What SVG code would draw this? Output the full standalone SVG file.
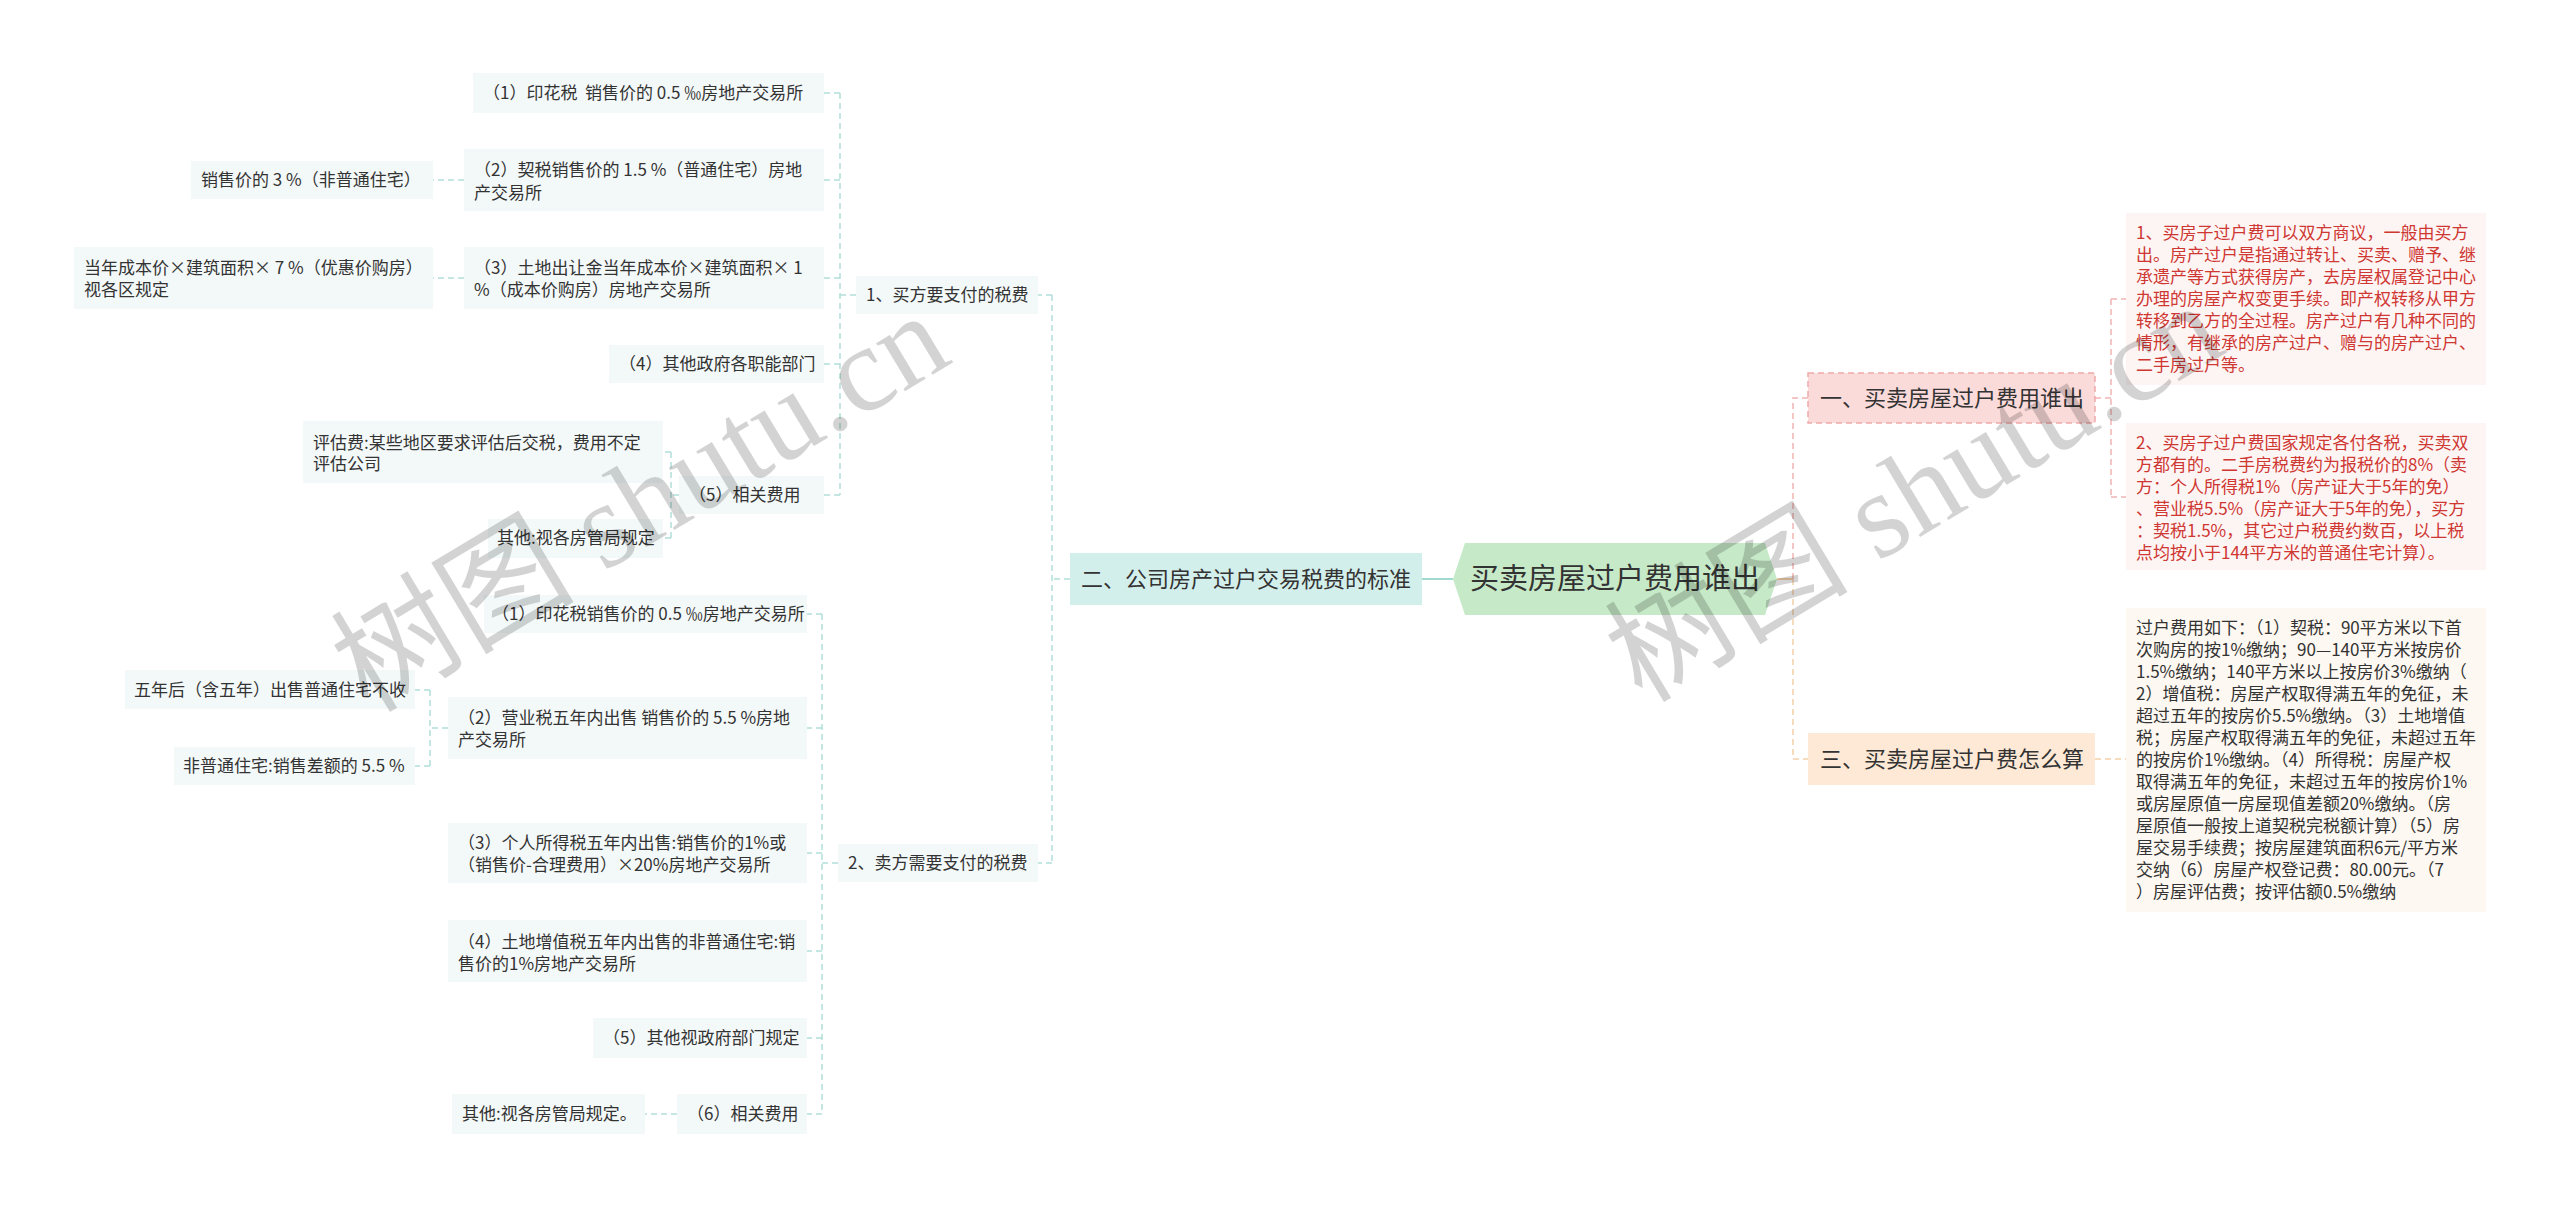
<svg xmlns="http://www.w3.org/2000/svg" width="2560" height="1207" viewBox="0 0 2560 1207">
<style>
text{font-family:"Noto Sans CJK SC","Noto Sans",sans-serif;white-space:pre;fill:#333}
.t17{font-size:17px}
.t22{font-size:22px}
.leafL{fill:#f3f9f9}
.leafR{fill:#fdf5f4}
.leafP{fill:#fdf8f1}
.red{fill:#cf3732}
.cL{fill:none;stroke:#b3dfda;stroke-width:1.5;stroke-dasharray:6 4}
.cR{fill:none;stroke:#f2b4b4;stroke-width:1.5;stroke-dasharray:6 4}
.cP{fill:none;stroke:#f5cfaa;stroke-width:1.5;stroke-dasharray:6 4}
.wm{font-family:"Liberation Serif","Noto Sans CJK SC",serif;font-size:122px;fill:#000;opacity:0.17}
</style>
<rect width="2560" height="1207" fill="#ffffff"/>
<g id="connectors">
<path d="M1453 579H1422" fill="none" stroke="#a3d9d3" stroke-width="2"/>
<path class="cL" d="M1070 579H1052M1052 295V863M1052 295H1038M1052 863H1038"/>
<path class="cL" d="M856 295H840M840 93V495M840 93H824M840 180H824M840 278H824M840 364H824M840 495H824"/>
<path class="cL" d="M464 180H433M464 278H433"/>
<path class="cL" d="M679 495H671M671 452V538M671 452H663M671 538H663"/>
<path class="cL" d="M838 863H822M822 614V1114M822 614H807M822 728H807M822 853H807M822 951H807M822 1038H807M822 1114H807"/>
<path class="cL" d="M448 728H430M430 690V766M430 690H415M430 766H415"/>
<path class="cL" d="M677 1114H645"/>
<path d="M1777 579H1793" fill="none" stroke="#f5cfaa" stroke-width="2"/>
<path class="cR" d="M1793 579V398H1808"/>
<path class="cP" d="M1793 579V759H1808"/>
<path class="cR" d="M2095 398H2111M2111 299V497M2111 299H2126M2111 497H2126"/>
<path class="cP" d="M2095 759H2126"/>
</g>
<g id="root">
<polygon points="1453,579 1465,543 1765,543 1777,579 1765,615 1465,615" fill="#c6e9c8"/>
<text x="1615" y="589" font-size="29" text-anchor="middle" fill="#222">买卖房屋过户费用谁出</text>
</g>
<g id="branch-2-company">
<rect x="1070" y="553" width="352" height="52" fill="#d3efec"/>
<text class="t22" x="1081" y="587">二、公司房产过户交易税费的标准</text>
</g>
<g id="buyer">
<rect class="leafL" x="856" y="276" width="182" height="38"/>
<text class="t17" x="866" y="301">1、买方要支付的税费</text>
</g>
<g id="b1">
<rect class="leafL" x="473" y="73" width="351" height="40"/>
<text class="t17" x="483" y="99">（1）印花税  销售价的 0.5 ‰房地产交易所</text>
</g>
<g id="b2">
<rect class="leafL" x="464" y="149" width="360" height="62"/>
<text class="t17" x="474" y="176">（2）契税销售价的 1.5 %（普通住宅）房地</text>
<text class="t17" x="474" y="199">产交易所</text>
</g>
<g id="b2a">
<rect class="leafL" x="191" y="161" width="242" height="38"/>
<text class="t17" x="201" y="186">销售价的 3 %（非普通住宅）</text>
</g>
<g id="b3">
<rect class="leafL" x="464" y="247" width="360" height="62"/>
<text class="t17" x="474" y="274">（3）土地出让金当年成本价×建筑面积× 1</text>
<text class="t17" x="474" y="296">%（成本价购房）房地产交易所</text>
</g>
<g id="b3a">
<rect class="leafL" x="74" y="247" width="359" height="62"/>
<text class="t17" x="84" y="274">当年成本价×建筑面积× 7 %（优惠价购房）</text>
<text class="t17" x="84" y="296">视各区规定</text>
</g>
<g id="b4">
<rect class="leafL" x="609" y="345" width="215" height="38"/>
<text class="t17" x="619" y="370">（4）其他政府各职能部门</text>
</g>
<g id="b5">
<rect class="leafL" x="679" y="476" width="145" height="38"/>
<text class="t17" x="689" y="501">（5）相关费用</text>
</g>
<g id="b5a">
<rect class="leafL" x="303" y="421" width="360" height="62"/>
<text class="t17" x="313" y="449">评估费:某些地区要求评估后交税，费用不定</text>
<text class="t17" x="313" y="470">评估公司</text>
</g>
<g id="b5b">
<rect class="leafL" x="488" y="519" width="175" height="39"/>
<text class="t17" x="497" y="544">其他:视各房管局规定</text>
</g>
<g id="seller">
<rect class="leafL" x="838" y="844" width="200" height="38"/>
<text class="t17" x="848" y="869">2、卖方需要支付的税费</text>
</g>
<g id="s1">
<rect class="leafL" x="484" y="595" width="323" height="38"/>
<text class="t17" x="492" y="620">（1）印花税销售价的 0.5 ‰房地产交易所</text>
</g>
<g id="s2">
<rect class="leafL" x="448" y="697" width="359" height="62"/>
<text class="t17" x="458" y="724">（2）营业税五年内出售 销售价的 5.5 %房地</text>
<text class="t17" x="458" y="746">产交易所</text>
</g>
<g id="s2a">
<rect class="leafL" x="125" y="670" width="290" height="39"/>
<text class="t17" x="134" y="696">五年后（含五年）出售普通住宅不收</text>
</g>
<g id="s2b">
<rect class="leafL" x="174" y="747" width="241" height="38"/>
<text class="t17" x="183" y="772">非普通住宅:销售差额的 5.5 %</text>
</g>
<g id="s3">
<rect class="leafL" x="448" y="823" width="359" height="60"/>
<text class="t17" x="458" y="849">（3）个人所得税五年内出售:销售价的1%或</text>
<text class="t17" x="458" y="871">（销售价-合理费用）×20%房地产交易所</text>
</g>
<g id="s4">
<rect class="leafL" x="448" y="920" width="359" height="62"/>
<text class="t17" x="458" y="948">（4）土地增值税五年内出售的非普通住宅:销</text>
<text class="t17" x="458" y="970">售价的1%房地产交易所</text>
</g>
<g id="s5">
<rect class="leafL" x="593" y="1018" width="214" height="40"/>
<text class="t17" x="603" y="1044">（5）其他视政府部门规定</text>
</g>
<g id="s6">
<rect class="leafL" x="677" y="1094" width="130" height="40"/>
<text class="t17" x="687" y="1120">（6）相关费用</text>
</g>
<g id="s6a">
<rect class="leafL" x="452" y="1094" width="193" height="40"/>
<text class="t17" x="462" y="1120">其他:视各房管局规定。</text>
</g>
<g id="branch-1-who">
<rect x="1808" y="373" width="287" height="50" fill="#fbdada" stroke="#f0a9a9" stroke-width="1.5" stroke-dasharray="6 4"/>
<text class="t22" x="1820" y="406">一、买卖房屋过户费用谁出</text>
</g>
<g id="who-1">
<rect class="leafR" x="2126" y="213" width="360" height="172"/>
<text class="t17 red" x="2136" y="239">1、买房子过户费可以双方商议，一般由买方</text>
<text class="t17 red" x="2136" y="261">出。房产过户是指通过转让、买卖、赠予、继</text>
<text class="t17 red" x="2136" y="283">承遗产等方式获得房产，去房屋权属登记中心</text>
<text class="t17 red" x="2136" y="305">办理的房屋产权变更手续。即产权转移从甲方</text>
<text class="t17 red" x="2136" y="327">转移到乙方的全过程。房产过户有几种不同的</text>
<text class="t17 red" x="2136" y="349">情形，有继承的房产过户、赠与的房产过户、</text>
<text class="t17 red" x="2136" y="371">二手房过户等。</text>
</g>
<g id="who-2">
<rect class="leafR" x="2126" y="423" width="360" height="147"/>
<text class="t17 red" x="2136" y="449">2、买房子过户费国家规定各付各税，买卖双</text>
<text class="t17 red" x="2136" y="471">方都有的。二手房税费约为报税价的8%（卖</text>
<text class="t17 red" x="2136" y="493">方：个人所得税1%（房产证大于5年的免）</text>
<text class="t17 red" x="2136" y="515">、营业税5.5%（房产证大于5年的免），买方</text>
<text class="t17 red" x="2136" y="537">：契税1.5%，其它过户税费约数百，以上税</text>
<text class="t17 red" x="2136" y="559">点均按小于144平方米的普通住宅计算）。</text>
</g>
<g id="branch-3-how">
<rect x="1808" y="733" width="287" height="52" fill="#fde9d5"/>
<text class="t22" x="1820" y="767">三、买卖房屋过户费怎么算</text>
</g>
<g id="how-1">
<rect class="leafP" x="2126" y="608" width="360" height="304"/>
<text class="t17" x="2136" y="634">过户费用如下：（1）契税：90平方米以下首</text>
<text class="t17" x="2136" y="656">次购房的按1%缴纳；90—140平方米按房价</text>
<text class="t17" x="2136" y="678">1.5%缴纳；140平方米以上按房价3%缴纳（</text>
<text class="t17" x="2136" y="700">2）增值税：房屋产权取得满五年的免征，未</text>
<text class="t17" x="2136" y="722">超过五年的按房价5.5%缴纳。（3）土地增值</text>
<text class="t17" x="2136" y="744">税；房屋产权取得满五年的免征，未超过五年</text>
<text class="t17" x="2136" y="766">的按房价1%缴纳。（4）所得税：房屋产权</text>
<text class="t17" x="2136" y="788">取得满五年的免征，未超过五年的按房价1%</text>
<text class="t17" x="2136" y="810">或房屋原值一房屋现值差额20%缴纳。（房</text>
<text class="t17" x="2136" y="832">屋原值一般按上道契税完税额计算）（5）房</text>
<text class="t17" x="2136" y="854">屋交易手续费；按房屋建筑面积6元/平方米</text>
<text class="t17" x="2136" y="876">交纳（6）房屋产权登记费：80.00元。（7</text>
<text class="t17" x="2136" y="898">）房屋评估费；按评估额0.5%缴纳</text>
</g>
<g id="watermarks">
<text class="wm" x="368" y="714" transform="rotate(-31 368 714)">树图 shutu.cn</text>
<text class="wm" x="1642" y="704" transform="rotate(-31 1642 704)">树图 shutu.cn</text>
</g>
</svg>
